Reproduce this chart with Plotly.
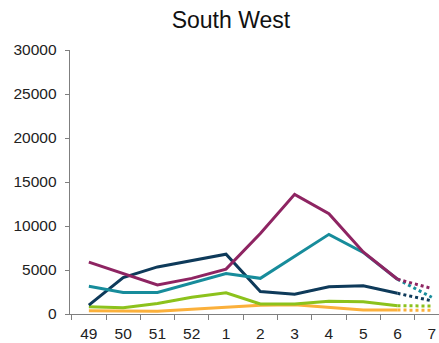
import plotly.graph_objects as go

weeks = ["49", "50", "51", "52", "1", "2", "3", "4", "5", "6", "7"]

magenta = [5900, 4600, 3300, 4050, 5100, 9150, 13600, 11400, 7050, 3950, 2900]
teal = [3150, 2450, 2450, 3500, 4600, 4050, 6550, 9050, 7000, 3950, 1900]
navy = [1000, 4150, 5350, 6100, 6800, 2550, 2250, 3100, 3200, 2350, 1500]
green = [830, 720, 1200, 1900, 2400, 1150, 1150, 1450, 1400, 950, 900]
orange = [380, 380, 300, 530, 780, 1000, 1050, 750, 450, 450, 420]

series = [
    ("orange", orange, "#FBB03B"),
    ("green", green, "#8CC21C"),
    ("navy", navy, "#0E3A5A"),
    ("teal", teal, "#178C9B"),
    ("magenta", magenta, "#8E2462"),
]

fig = go.Figure()
for name, vals, col in series:
    fig.add_trace(go.Scatter(x=weeks[:10], y=vals[:10], mode="lines",
                             line=dict(color=col, width=3), name=name,
                             showlegend=False, hoverinfo="skip"))
    fig.add_trace(go.Scatter(x=weeks[9:], y=vals[9:], mode="lines",
                             line=dict(color=col, width=3, dash="dot"), name=name,
                             showlegend=False, hoverinfo="skip"))

font = "Liberation Sans, Arial, sans-serif"
fig.update_layout(
    width=439, height=343,
    margin=dict(l=70, r=0, t=50, b=29),
    paper_bgcolor="white", plot_bgcolor="white",
    font=dict(family=font, size=15.5, color="#222"),
    title=dict(text="South West", font=dict(family=font, size=23, color="#111"),
               xref="container", x=0.526, xanchor="center",
               yref="container", y=1 - 19.5/343, yanchor="middle"),
    xaxis=dict(type="category", categoryorder="array", categoryarray=weeks,
               range=[-0.55, 10.21], tickson="boundaries", ticks="outside",
               ticklen=5, tickcolor="#7f7f7f", showline=True, linecolor="#7f7f7f",
               linewidth=1.3, showgrid=False, zeroline=False, ticklabelstandoff=5),
    yaxis=dict(range=[0, 30000], tickvals=[0, 5000, 10000, 15000, 20000, 25000, 30000],
               ticktext=["0", "5000", "10000", "15000", "20000", "25000", "30000"],
               ticks="outside", ticklen=4, tickcolor="#7f7f7f", showline=True,
               linecolor="#7f7f7f", linewidth=1.3, showgrid=False, zeroline=False,
               ticklabelstandoff=5),
)
fig.write_html("out.html", config={"displayModeBar": False, "staticPlot": True},
               post_script="document.body.style.margin='0px';document.body.style.overflow='hidden';")
